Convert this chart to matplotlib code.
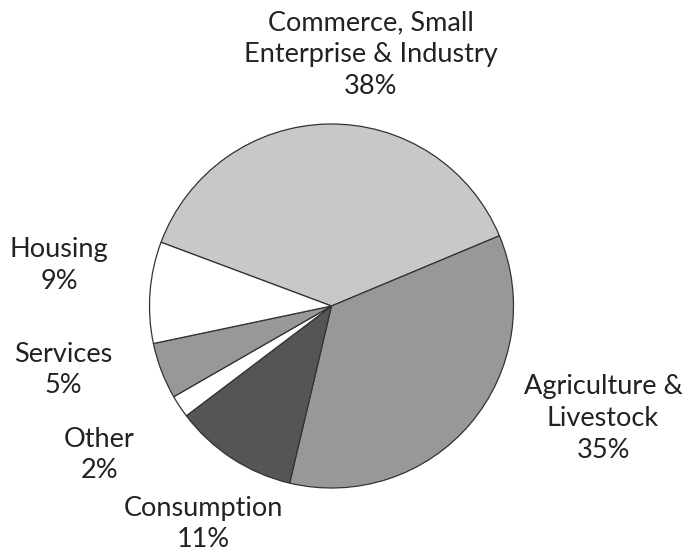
import matplotlib.pyplot as plt

# loan portfolio by sector (percent)
sectors = ['Commerce, Small\nEnterprise & Industry', 'Agriculture &\nLivestock',
           'Consumption', 'Other', 'Services', 'Housing']
shares = [38, 35, 11, 2, 5, 9]
colors = ['#c8c8ca', '#98989b', '#555557', '#ffffff', '#98989b', '#ffffff']

# where each label sits, in pie radius units
label_xy = [(0.217, 1.380), (1.492, -0.618), (-0.706, -1.198),
            (-1.277, -0.819), (-1.475, -0.352), (-1.497, 0.223)]

plt.rcParams['font.family'] = ['Lato', 'DejaVu Sans']

fig = plt.figure(figsize=(6.83, 5.53), dpi=100)
ax = fig.add_axes([0, 0, 1, 1])

r = 182.0
cx, cy = 331.5, 306.0
ax.pie(shares, colors=colors, startangle=159.5, counterclock=False,
       radius=1.0, center=(0, 0),
       wedgeprops=dict(edgecolor='#333333', linewidth=0.9))

for name, val, (x, y) in zip(sectors, shares, label_xy):
    ax.text(x, y, f'{name}\n{val}%', ha='center', va='center',
            fontsize=19.5, color='#222222', linespacing=1.33)

ax.set_xlim(-cx / r, (683 - cx) / r)
ax.set_ylim((cy - 553) / r, cy / r)
ax.set_aspect('equal')
ax.axis('off')

fig.savefig('out.png', dpi=100)
